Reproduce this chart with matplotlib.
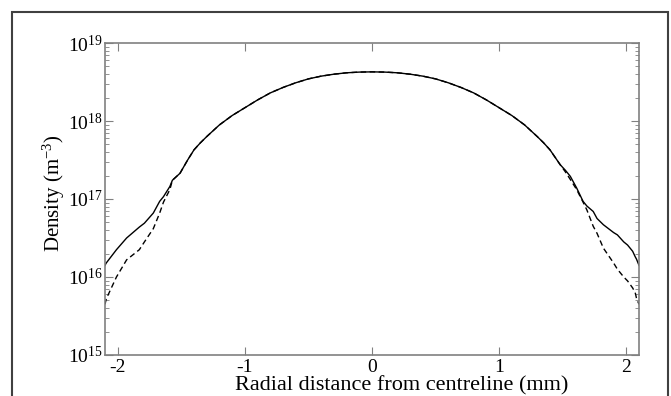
import numpy as np
import matplotlib
matplotlib.use('Agg')
import matplotlib.pyplot as plt
from matplotlib.patches import Rectangle
from matplotlib.ticker import LogLocator, FixedLocator

plt.rcParams['font.family'] = 'Liberation Serif'
plt.rcParams['mathtext.fontset'] = 'custom'
plt.rcParams['mathtext.rm'] = 'Liberation Serif'
plt.rcParams['mathtext.it'] = 'Liberation Serif:italic'

# radial position (mm) and log10 density (m^-3)
radius = [-2.10, -2.09, -2.01, -1.93, -1.83, -1.79, -1.72, -1.67, -1.64, -1.59,
          -1.57, -1.51, -1.45, -1.40, -1.35, -1.3, -1.2, -1.1, -1.0, -0.9,
          -0.8, -0.7, -0.6, -0.5, -0.4, -0.3, -0.2, -0.1, 0.0, 0.1,
          0.2, 0.3, 0.4, 0.5, 0.6, 0.7, 0.8, 0.9, 1.0, 1.1,
          1.2, 1.3, 1.35, 1.40, 1.48, 1.52, 1.56, 1.61, 1.66, 1.69,
          1.74, 1.77, 1.82, 1.90, 1.93, 1.98, 2.01, 2.05, 2.07, 2.08,
          2.10]
log_solid = [16.15, 16.18, 16.35, 16.50, 16.64, 16.69, 16.82, 16.97, 17.03, 17.16,
             17.24, 17.33, 17.50, 17.63, 17.72, 17.80, 17.95, 18.07, 18.17, 18.27,
             18.36, 18.43, 18.49, 18.54, 18.575, 18.60, 18.618, 18.627, 18.63, 18.627,
             18.618, 18.60, 18.575, 18.54, 18.49, 18.43, 18.36, 18.27, 18.17, 18.07,
             17.95, 17.80, 17.72, 17.63, 17.44, 17.37, 17.29, 17.14, 16.97, 16.91,
             16.84, 16.75, 16.67, 16.57, 16.54, 16.45, 16.41, 16.33, 16.26, 16.23,
             16.15]
log_dashed = [15.65, 15.72, 16.00, 16.22, 16.35, 16.45, 16.62, 16.82, 16.96, 17.12,
              17.24, 17.33, 17.50, 17.63, 17.72, 17.80, 17.95, 18.07, 18.17, 18.27,
              18.36, 18.43, 18.49, 18.54, 18.575, 18.60, 18.618, 18.627, 18.63, 18.627,
              18.618, 18.60, 18.575, 18.54, 18.49, 18.43, 18.36, 18.27, 18.17, 18.07,
              17.95, 17.80, 17.72, 17.63, 17.44, 17.35, 17.25, 17.12, 16.96, 16.86,
              16.65, 16.56, 16.37, 16.18, 16.10, 16.00, 15.95, 15.86, 15.80, 15.73,
              15.65]

fig = plt.figure(figsize=(6.71, 3.96), dpi=100)
ax = fig.add_axes([105 / 671, 1 - 355 / 396, 534 / 671, 312 / 396])

ax.plot(radius, 10 ** np.array(log_solid), color='black', lw=1.0)
ax.plot(radius, 10 ** np.array(log_dashed), color='black', lw=1.0,
        linestyle=(0, (4, 2.5)))

ax.set_yscale('log')
ax.set_xlim(-2.1, 2.1)
ax.set_ylim(1e15, 1e19)
ax.xaxis.set_major_locator(FixedLocator([-2, -1, 0, 1, 2]))
ax.yaxis.set_major_locator(LogLocator(base=10, numticks=10))
ax.yaxis.set_minor_locator(LogLocator(base=10, subs=np.arange(2, 10), numticks=10))
ax.set_xticklabels(['-2', '-1', '0', '1', '2'])

ax.tick_params(axis='both', which='both', direction='in', colors='#808080',
               labelcolor='black', labelsize=14, top=True, right=True)
ax.tick_params(axis='x', which='major', length=6, pad=3)
ax.tick_params(axis='y', which='major', length=6, pad=1.5)
ax.tick_params(axis='y', which='minor', length=3)
ax.tick_params(axis='x', which='minor', bottom=False, top=False)
for s in ax.spines.values():
    s.set_color('#808080')
    s.set_linewidth(1.2)

ax.set_xlabel('Radial distance from centreline (mm)', fontsize=16)
ax.xaxis.set_label_coords(0.556, -0.066)
ax.set_ylabel('Density (m$^{-3}$)', fontsize=15)
ax.yaxis.set_label_coords(-0.072, 0.52)

# outer frame
fig.patches.append(Rectangle((12 / 671, -0.1), 656 / 671, 1.1 - 12 / 396,
                             transform=fig.transFigure, fill=False,
                             edgecolor='#404040', lw=1.5))

fig.savefig('out.png', dpi=100)
